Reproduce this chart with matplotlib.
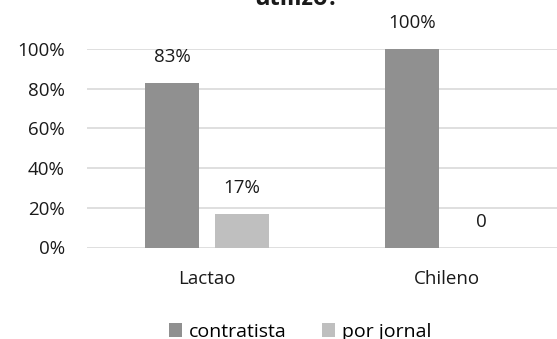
"""
contratista vs por jornal by fundo
"""
import matplotlib.pyplot as plt

plt.rcParams['font.family'] = ['Open Sans', 'DejaVu Sans']

categories = ["Lactao", "Chileno"]
contratista = [83, 100]
por_jornal = [17, 0]
contratista_labels = ["83%", "100%"]
por_jornal_labels = ["17%", "0"]


def main():
    fig = plt.figure(figsize=(5.57, 3.39), dpi=100)
    # plot area runs off the right edge like the reference crop
    ax = fig.add_axes([87 / 557, (339 - 247.5) / 339, 480 / 557, 198.5 / 339])

    x = list(range(len(categories)))
    width = 0.225
    off = 0.144
    ax.bar([i - off for i in x], contratista, width, color="#909090", label="contratista", zorder=3)
    ax.bar([i + off for i in x], por_jornal, width, color="#bfbfbf", label="por jornal", zorder=3)

    for i in x:
        ax.text(i - off, contratista[i] + 10.5, contratista_labels[i], ha="center", va="baseline", fontsize=13.5, color="#1a1a1a")
        ax.text(i + off, por_jornal[i] + 10.5, por_jornal_labels[i], ha="center", va="baseline", fontsize=13.5, color="#1a1a1a")

    ax.set_xlim(-0.5, 1.5)
    ax.set_ylim(0, 100)
    ax.set_yticks([0, 20, 40, 60, 80, 100])
    ax.set_yticklabels(["0%", "20%", "40%", "60%", "80%", "100%"])
    ax.set_xticks(x)
    ax.set_xticklabels(categories)
    ax.tick_params(length=0, labelsize=13.5, colors="#1a1a1a")
    ax.tick_params(axis="x", pad=16)
    ax.tick_params(axis="y", pad=16)
    ax.yaxis.grid(True, color="#d9d9d9", linewidth=1.2, zorder=0)
    for s in ax.spines.values():
        s.set_visible(False)

    fig.text(297 / 557, 1 - 5 / 339, "utilizó?", ha="center", va="baseline", fontsize=17, fontweight="bold", color="#1a1a1a")

    fig.legend(loc="center", bbox_to_anchor=(300 / 557, 1 - 332 / 339), ncol=2, frameon=False,
               fontsize=14, handlelength=0.7, handleheight=0.7, handletextpad=0.35, columnspacing=1.8)

    fig.savefig("out.png", dpi=100)


if __name__ == '__main__':
    main()
